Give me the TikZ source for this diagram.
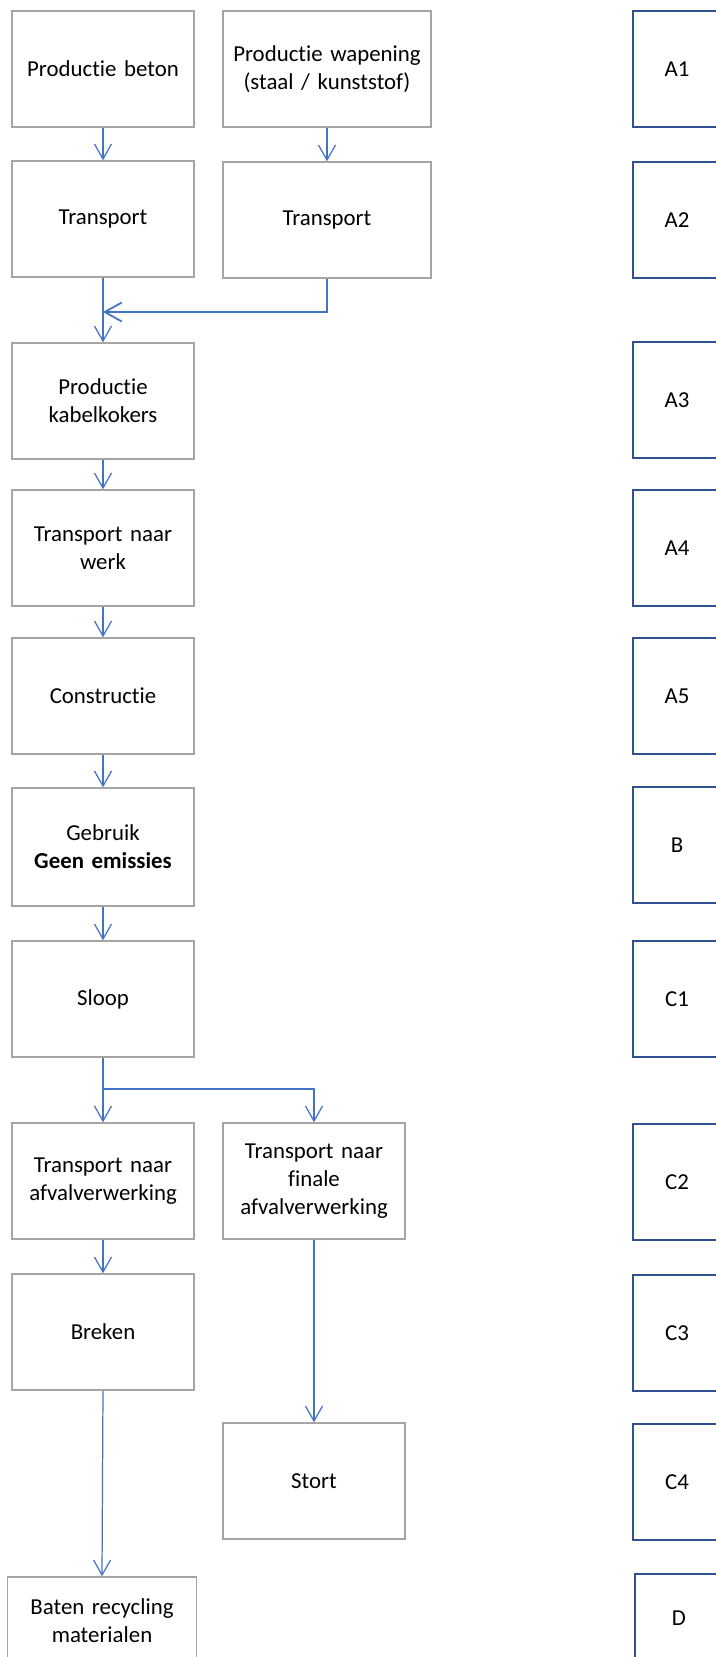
\documentclass[tikz,border=0pt]{standalone}
\usepackage{fontspec}
\setmainfont{Carlito}[Ligatures=NoCommon]
\usetikzlibrary{arrows.meta}

\definecolor{boxgray}{RGB}{165,165,165}
\definecolor{flowblue}{RGB}{68,114,196}
\definecolor{phaseblue}{RGB}{47,82,143}

\begin{document}
\begin{tikzpicture}[x=0.02cm, y=-0.02cm,
  proc/.style={draw=boxgray, line width=0.85pt, minimum width=3.64cm, minimum height=2.32cm,
    text width=3.5cm, align=center, inner sep=0pt, font=\fontsize{13}{15.9}\selectfont},
  phase/.style={draw=phaseblue, line width=1.6pt, minimum width=1.76cm, minimum height=2.32cm,
    inner sep=0pt, font=\fontsize{13}{15.9}\selectfont},
  flow/.style={draw=flowblue, line width=0.7pt, -{Straight Barb[length=0.3cm, width=0.34cm]}}
]
  \useasboundingbox (0,0) rectangle (716,1657);

  % process chain
  \node[proc] (beton) at (103,69) {Productie beton};
  \node[proc, minimum width=4.16cm, text width=4.1cm] (wapening) at (327,69) {Productie wapening\\(staal / kunststof)};
  \node[proc] (trbeton) at (103,219) {Transport};
  \node[proc, minimum width=4.16cm] (trwapening) at (327,220) {Transport};
  \node[proc] (kokers) at (103,401) {Productie\\kabelkokers};
  \node[proc] (werk) at (103,548) {Transport naar\\werk};
  \node[proc] (constructie) at (103,696) {Constructie};
  \node[proc, minimum height=2.36cm] (gebruik) at (103,847) {Gebruik\\\textbf{Geen emissies}};
  \node[proc] (sloop) at (103,999) {Sloop};
  \node[proc] (afval) at (103,1181) {Transport naar\\afvalverwerking};
  \node[proc] (finale) at (314,1181) {Transport naar\\finale\\afvalverwerking};
  \node[proc] (breken) at (103,1332) {Breken};
  \node[proc] (stort) at (314,1481) {Stort};
  \node[proc, minimum width=3.78cm, minimum height=1.76cm] (baten) at (102,1621) {Baten recycling\\materialen};

  \coordinate (merge) at (103,312);
  \coordinate (split) at (103,1089);

  \draw[flow] (beton) -- (trbeton);
  \draw[flow] (wapening) -- (trwapening);
  \draw[flow, line width=1pt, -{Straight Barb[length=0.34cm, width=0.38cm]}] (trwapening.south) |- (merge);
  \draw[flow] (trbeton) -- (kokers);
  \draw[flow] (kokers) -- (werk);
  \draw[flow] (werk) -- (constructie);
  \draw[flow] (constructie) -- (gebruik);
  \draw[flow] (gebruik) -- (sloop);
  \draw[flow] (sloop) -- (afval);
  \draw[flow] (split) -| (finale.north);
  \draw[flow] (afval) -- (breken);
  \draw[flow] (finale) -- (stort);
  \draw[flow] (breken.south) -- (baten.north);

  % phases
  \foreach \name/\ypos in {A1/69, A2/220, A3/400, A4/548, A5/696, B/845,
                           C1/999, C2/1182, C3/1333, C4/1482}
    \node[phase] (\name) at (677,\ypos) {\name};
  \node[phase, minimum height=1.76cm] (D) at (679,1618) {D};
\end{tikzpicture}
\end{document}
